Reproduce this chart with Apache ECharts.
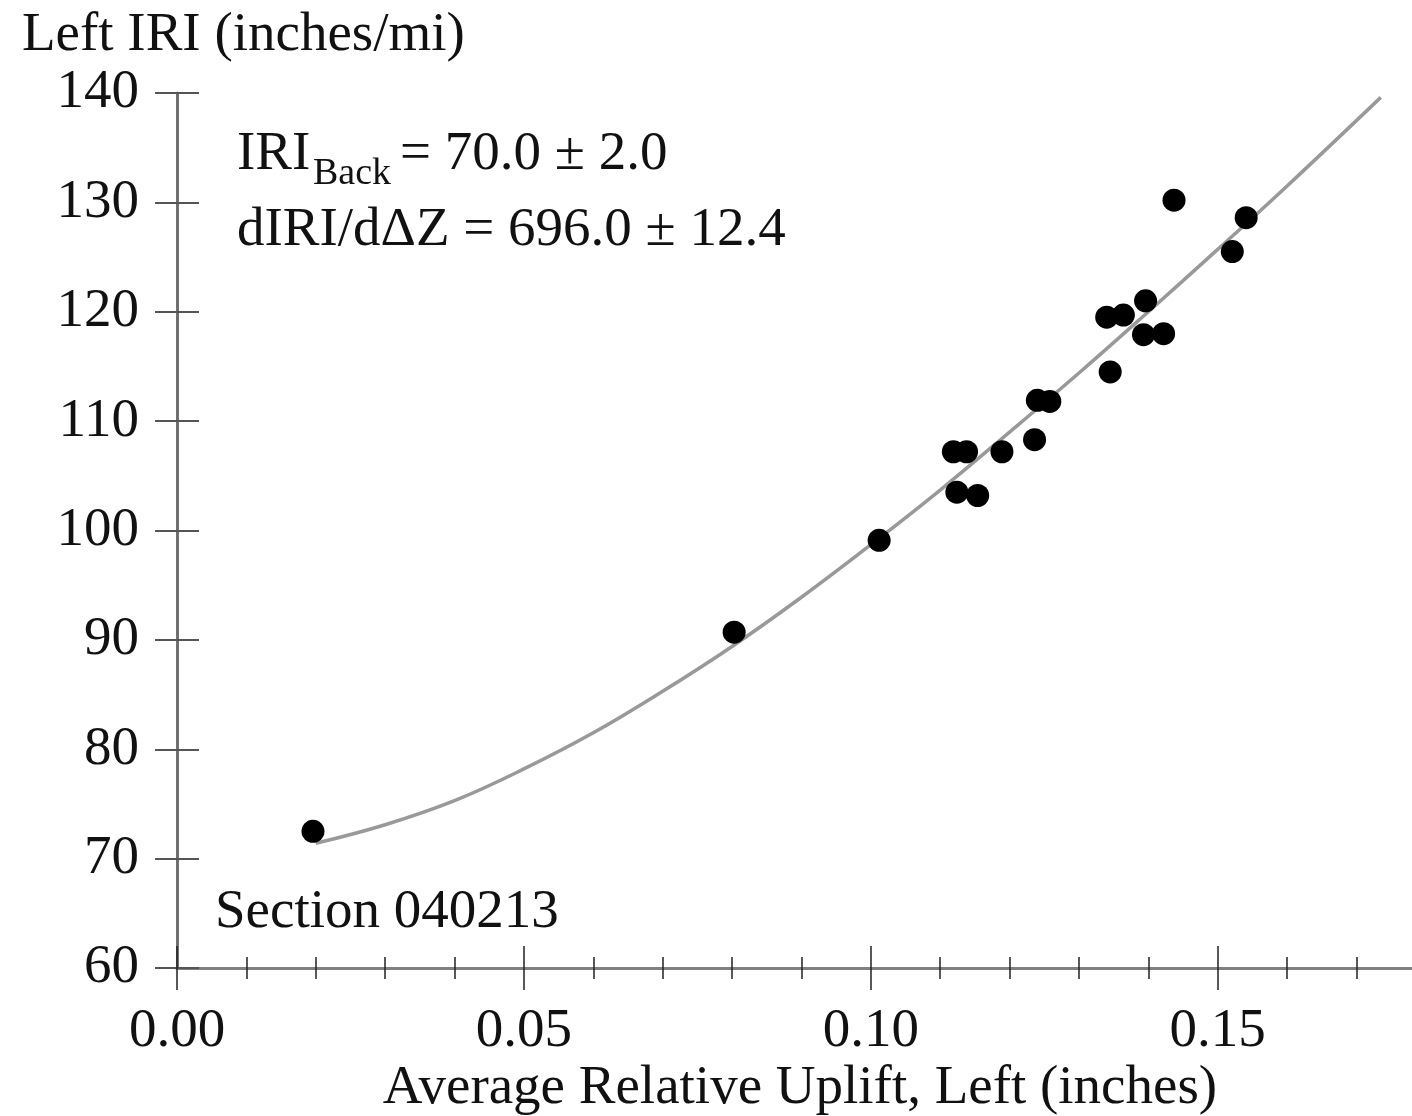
<!DOCTYPE html>
<html>
<head>
<meta charset="utf-8">
<script src="https://cdn.jsdelivr.net/npm/echarts@6/dist/echarts.min.js"></script>
<style>html,body{margin:0;padding:0;background:#fff}#c{width:1412px;height:1116px}</style>
</head>
<body>
<div id="c"></div>
<script>
// Measured points: average relative uplift (in) vs left IRI (in/mi)
const upliftX = [0.0196, 0.0803, 0.1012, 0.1119, 0.1138, 0.1189, 0.1236, 0.1124, 0.1154, 0.1240, 0.1258, 0.1340, 0.1364, 0.1396, 0.1393, 0.1422, 0.1345, 0.1437, 0.1541, 0.1521];
const iriY    = [72.5, 90.7, 99.1, 107.2, 107.2, 107.2, 108.3, 103.5, 103.2, 111.9, 111.8, 119.5, 119.7, 121.0, 117.9, 118.0, 114.5, 130.2, 128.6, 125.5];
// Fit curve
const fitX = [0.020, 0.030, 0.040, 0.050, 0.060, 0.070, 0.080, 0.090, 0.100, 0.110, 0.120, 0.130, 0.140, 0.150, 0.160, 0.1735];
const fitY = [71.4, 73.1, 75.3, 78.2, 81.5, 85.3, 89.4, 93.9, 98.7, 103.7, 109.0, 114.4, 120.0, 125.7, 131.5, 139.6];
const xTickValues = [0, 0.05, 0.10, 0.15];
const xTicks = ['0.00', '0.05', '0.10', '0.15'];
const yTitle = 'Left IRI (inches/mi)';
const xTitle = 'Average Relative Uplift, Left (inches)';
const annoLine2 = 'dIRI/d\u0394Z = 696.0 \u00b1 12.4';
const sectionLabel = 'Section 040213';

const FONT = '"Liberation Serif", "DejaVu Serif", serif';
const chart = echarts.init(document.getElementById('c'), null, {renderer: 'canvas'});

const xBase = {
  type: 'value', position: 'bottom', min: 0, max: 0.178, interval: 0.05,
  splitLine: {show: false},
  axisLine: {show: true, onZero: false, lineStyle: {color: '#808080', width: 3}},
  minorTick: {show: true, splitNumber: 5, length: 11, lineStyle: {color: '#222', width: 1.5}},
  axisTick: {show: true, length: 22, customValues: xTickValues, lineStyle: {color: '#222', width: 1.5}},
  axisLabel: {show: false}
};
const yBase = {
  type: 'value', position: 'left', min: 60, max: 140, interval: 10,
  splitLine: {show: false},
  axisLine: {show: true, onZero: false, lineStyle: {color: '#6a6a6a', width: 2.5}},
  axisTick: {show: true, length: 22, lineStyle: {color: '#555', width: 2}},
  axisLabel: {show: false}
};

chart.setOption({
  animation: false,
  backgroundColor: '#fff',
  grid: {left: 177, right: 0, top: 93, bottom: 148, containLabel: false},
  xAxis: [
    Object.assign({}, xBase, {
      axisTick: Object.assign({}, xBase.axisTick, {inside: false}),
      axisLabel: {show: true, margin: 36, fontFamily: FONT, fontSize: 55, color: '#111',
        customValues: xTickValues,
        formatter: v => xTicks[xTickValues.indexOf(Math.round(v * 100) / 100)] || ''}
    }),
    Object.assign({}, xBase, {
      offset: 0,
      axisTick: Object.assign({}, xBase.axisTick, {inside: true})
    })
  ],
  yAxis: [
    Object.assign({}, yBase, {
      axisTick: Object.assign({}, yBase.axisTick, {inside: false}),
      axisLabel: {show: true, margin: 38, fontFamily: FONT, fontSize: 55, color: '#111'}
    }),
    Object.assign({}, yBase, {
      offset: 0,
      axisTick: Object.assign({}, yBase.axisTick, {inside: true})
    })
  ],
  series: [
    {
      type: 'line', xAxisIndex: 0, yAxisIndex: 0,
      data: fitX.map((x, i) => [x, fitY[i]]),
      smooth: 0.4, showSymbol: false, symbol: 'none',
      lineStyle: {color: '#999', width: 3.5}, z: 2
    },
    {
      type: 'scatter', xAxisIndex: 0, yAxisIndex: 0,
      data: upliftX.map((x, i) => [x, iriY[i]]),
      symbol: 'circle', symbolSize: 23,
      itemStyle: {color: '#000', opacity: 1}, z: 3
    }
  ],
  graphic: [
    {type: 'text', left: 22, top: 8, style: {text: yTitle, font: '55px ' + FONT, fill: '#111'}},
    {type: 'text', left: 237, top: 127, style: {text: 'IRI', font: '55px ' + FONT, fill: '#111'}},
    {type: 'text', left: 313, top: 155, style: {text: 'Back', font: '38px ' + FONT, fill: '#111'}},
    {type: 'text', left: 400, top: 127, style: {text: '= 70.0 \u00b1 2.0', font: '55px ' + FONT, fill: '#111'}},
    {type: 'text', left: 237, top: 203, style: {text: annoLine2, font: '55px ' + FONT, fill: '#111'}},
    {type: 'text', left: 215, top: 885, style: {text: sectionLabel, font: '55px ' + FONT, fill: '#111'}},
    {type: 'text', x: 800, y: 1061, style: {text: xTitle, font: '55px ' + FONT, fill: '#111', textAlign: 'center'}}
  ]
});
</script>
</body>
</html>
